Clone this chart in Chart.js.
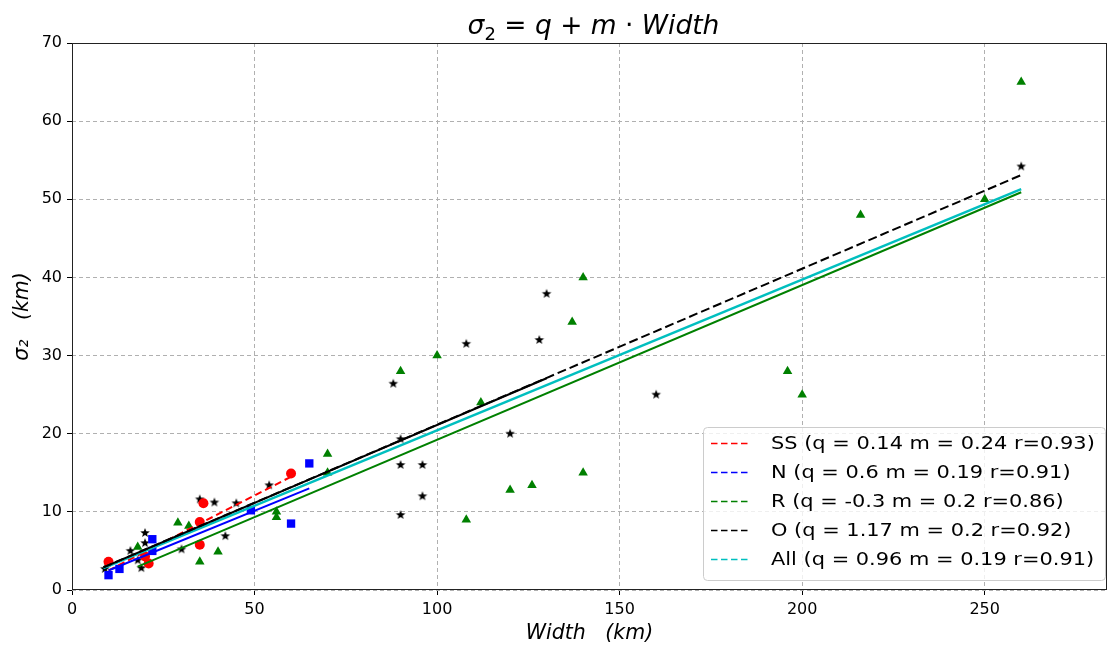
<!DOCTYPE html>
<html>
<head>
<meta charset="utf-8">
<script src="https://cdn.jsdelivr.net/npm/chart.js@4.4.1/dist/chart.umd.min.js"></script>
<style>
  html, body { margin: 0; padding: 0; background: #fff; }
  #wrap { width: 1108px; height: 646px; }
</style>
</head>
<body>
<div id="wrap"><canvas id="sigmaChart" width="1108" height="646"></canvas></div>
<script>
// Width (km) vs sigma2 (km), per group
const ssWidth = [10, 21, 20, 35, 35, 36, 60];
const ssSigma = [3.6, 3.4, 4.3, 5.8, 8.7, 11.1, 14.9];

const nWidth = [10, 13, 22, 22, 49, 60, 65];
const nSigma = [1.9, 2.7, 6.5, 5.0, 10.2, 8.5, 16.2];

const rWidth = [18, 29, 32, 35, 40, 56, 56, 70, 70, 90, 100, 108, 112, 120, 126, 137, 140, 140, 196, 200, 216, 250, 260];
const rSigma = [5.5, 8.6, 8.2, 3.6, 4.9, 10.0, 9.3, 17.4, 15.0, 28.0, 30.0, 9.0, 24.0, 12.8, 13.4, 34.3, 40.0, 15.0, 28.0, 25.0, 48.0, 50.0, 65.0];

const oWidth = [9, 16, 19, 18, 20, 20, 30, 35, 39, 42, 45, 54, 88, 90, 90, 90, 96, 96, 108, 120, 128, 130, 160, 260];
const oSigma = [2.7, 5.0, 2.8, 3.8, 7.3, 6.0, 5.2, 11.6, 11.2, 6.9, 11.1, 13.4, 26.4, 19.3, 16.0, 9.6, 16.0, 12.0, 31.5, 20.0, 32.0, 37.9, 25.0, 54.2];

// fitted lines, end points
const ssFitX = [10, 60];    const ssFitY = [2.5, 14.5];
const nFitX = [10, 65];     const nFitY = [2.5, 13.0];
const rFitX = [18, 260];    const rFitY = [3.0, 50.9];
const oFitX = [8.6, 260];   const oFitY = [2.9, 53.1];
const oSolidX = [8.6, 130]; const oSolidY = [2.9, 27.1];
const allFitX = [8.6, 260]; const allFitY = [2.8, 51.3];

const legendLabels = [
  'SS (q = 0.14 m = 0.24 r=0.93)',
  'N (q = 0.6 m = 0.19 r=0.91)',
  'R (q = -0.3 m = 0.2 r=0.86)',
  'O (q = 1.17 m = 0.2 r=0.92)',
  'All (q = 0.96 m = 0.19 r=0.91)'
];
const legendColors = ['#ff0000', '#0000ff', '#008000', '#000000', '#00bfbf'];

const xTicks = [0, 50, 100, 150, 200, 250];
const yTicks = [0, 10, 20, 30, 40, 50, 60, 70];

const pts = (xs, ys) => xs.map((x, i) => ({ x: x, y: ys[i] }));

function starImage(r, color) {
  const c = document.createElement('canvas');
  const s = Math.ceil(r * 2 + 2);
  c.width = s; c.height = s;
  const g = c.getContext('2d');
  g.fillStyle = color;
  g.beginPath();
  for (let i = 0; i < 10; i++) {
    const rr = i % 2 ? r * 0.42 : r;
    const a = -Math.PI / 2 + i * Math.PI / 5;
    g.lineTo(s / 2 + rr * Math.cos(a), s / 2 + rr * Math.sin(a));
  }
  g.closePath();
  g.fill();
  return c;
}

function markers(label, data, color, style, radius) {
  return {
    label: label, data: data, showLine: false, order: 10,
    pointStyle: style, pointRadius: radius, pointHoverRadius: radius,
    pointBackgroundColor: color, pointBorderWidth: 0
  };
}

function fitLine(label, data, color, dash, order, width) {
  return {
    label: label, data: data, showLine: true, order: order,
    borderColor: color, borderWidth: width || 2, borderDash: dash,
    pointRadius: 0, fill: false
  };
}

const frame = {
  id: 'frame',
  afterDatasetsDraw(chart) {
    const a = chart.chartArea, ctx = chart.ctx;
    ctx.save();
    ctx.strokeStyle = '#222';
    ctx.lineWidth = 1;
    ctx.strokeRect(a.left + 0.5, a.top + 0.5, a.width - 1, a.height - 1);
    ctx.restore();
  }
};

const mathTitle = {
  id: 'mathTitle',
  afterDraw(chart) {
    const ctx = chart.ctx;
    const it = 'italic 26.5px "DejaVu Sans"', up = '26.5px "DejaVu Sans"', sub = '18px "DejaVu Sans"';
    const parts = [['σ', it, 0], ['2', sub, 6], [' = ', up, 0], ['q', it, 0], [' + ', up, 0],
                   ['m', it, 0], [' · ', up, 0], ['Width', it, 0]];
    let w = 0;
    parts.forEach(p => { ctx.font = p[1]; w += ctx.measureText(p[0]).width; });
    let x = (chart.chartArea.left + chart.chartArea.right) / 2 + 4 - w / 2;
    ctx.save();
    ctx.fillStyle = '#000';
    ctx.textBaseline = 'alphabetic';
    parts.forEach(p => {
      ctx.font = p[1];
      ctx.fillText(p[0], x, 34 + p[2]);
      x += ctx.measureText(p[0]).width;
    });
    ctx.restore();
  }
};

const boxLegend = {
  id: 'boxLegend',
  afterDraw(chart) {
    const ctx = chart.ctx;
    ctx.save();
    ctx.beginPath();
    ctx.roundRect(703.5, 427.5, 402, 153, 4);
    ctx.fillStyle = 'rgba(255,255,255,0.8)';
    ctx.fill();
    ctx.strokeStyle = '#cccccc';
    ctx.lineWidth = 1;
    ctx.stroke();
    ctx.font = '18.5px "DejaVu Sans"';
    ctx.textBaseline = 'middle';
    legendLabels.forEach((t, i) => {
      const y = 443.5 + i * 29;
      ctx.beginPath();
      ctx.setLineDash([6.5, 3.5]);
      ctx.strokeStyle = legendColors[i];
      ctx.lineWidth = 1.5;
      ctx.moveTo(711, y); ctx.lineTo(751, y);
      ctx.stroke();
      ctx.setLineDash([]);
      ctx.fillStyle = '#000';
      ctx.save();
      ctx.translate(771, y + 1);
      ctx.scale(1.13, 1);
      ctx.fillText(t, 0, 0);
      ctx.restore();
    });
    ctx.restore();
  }
};

const tickFont = { family: 'DejaVu Sans', size: 16 };
const gridOpts = { color: '#b0b0b0', lineWidth: 1, tickColor: '#000', tickLength: 5, tickWidth: 1, tickBorderDash: [] };

new Chart(document.getElementById('sigmaChart'), {
  type: 'scatter',
  data: {
    datasets: [
      fitLine('O solid', pts(oSolidX, oSolidY), '#000000', [], 1),
      fitLine(legendLabels[3], pts(oFitX, oFitY), '#000000', [9, 4], 2),
      fitLine(legendLabels[4], pts(allFitX, allFitY), '#00bfbf', [], 3, 2.5),
      fitLine(legendLabels[1], pts(nFitX, nFitY), '#0000ff', [], 4),
      fitLine(legendLabels[0], pts(ssFitX, ssFitY), '#ff0000', [7, 4], 5),
      fitLine(legendLabels[2], pts(rFitX, rFitY), '#008000', [], 6),
      markers('SS', pts(ssWidth, ssSigma), '#ff0000', 'circle', 5),
      markers('N', pts(nWidth, nSigma), '#0000ff', 'rect', 5.9),
      markers('R', pts(rWidth, rSigma), '#008000', 'triangle', 5.5),
      markers('O', pts(oWidth, oSigma), '#000000', starImage(5, '#000'), 5)
    ]
  },
  options: {
    responsive: false,
    animation: false,
    devicePixelRatio: 1,
    layout: { autoPadding: false, padding: { top: 43, right: 1, left: 0, bottom: 0 } },
    plugins: { legend: { display: false }, tooltip: { enabled: false }, title: { display: false } },
    scales: {
      x: {
        type: 'linear', min: 0, max: 283.5,
        afterBuildTicks: s => { s.ticks = xTicks.map(v => ({ value: v })); },
        afterFit: s => { s.height = 56; s.paddingLeft = 0; s.paddingRight = 0; },
        ticks: { font: tickFont, color: '#000', padding: 5, maxRotation: 0 },
        grid: gridOpts,
        border: { display: false, dash: [4, 3] },
        title: { display: true, text: 'Width   (km)', color: '#000',
                 font: { family: 'DejaVu Sans', size: 20.5, style: 'italic' }, padding: { top: 0, bottom: 0 } }
      },
      y: {
        type: 'linear', min: 0, max: 70,
        afterBuildTicks: s => { s.ticks = yTicks.map(v => ({ value: v })); },
        afterFit: s => { s.width = 72; s.paddingTop = 0; s.paddingBottom = 0; },
        ticks: { font: tickFont, color: '#000', padding: 5 },
        grid: gridOpts,
        border: { display: false, dash: [4, 3] },
        title: { display: true, text: 'σ₂   (km)', color: '#000',
                 font: { family: 'DejaVu Sans', size: 20.5, style: 'italic' }, padding: { top: 10, bottom: 0 } }
      }
    }
  },
  plugins: [frame, mathTitle, boxLegend]
});
</script>
</body>
</html>
